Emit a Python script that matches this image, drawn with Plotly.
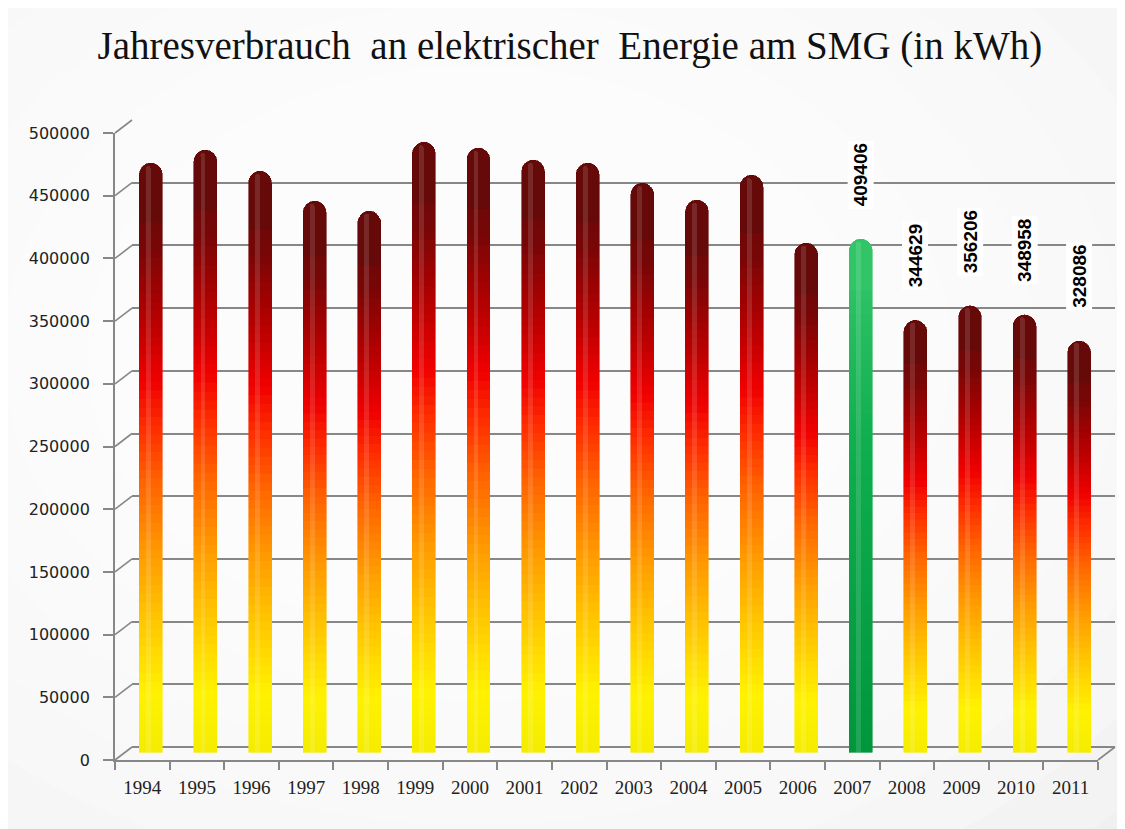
import plotly.graph_objects as go
import numpy as np

# ---------------- data ----------------
years = [str(y) for y in range(1994, 2012)]
verbrauch_kwh = [470000, 480400, 463600, 439700, 431700, 486700, 482000, 472400,
                 470000, 454000, 440500, 460400, 406200, 409406, 344629, 356206,
                 348958, 328086]
labelled_years = ["2007", "2008", "2009", "2010", "2011"]
highlight_year = "2007"
y_ticks = list(range(0, 500001, 50000))
title_text = "Jahresverbrauch\u00a0 an elektrischer\u00a0 Energie am SMG (in kWh)"

# ---------------- geometry (reference pixels, page has 8px body margin) ----------------
OFF = 8
W, H = 1125 - OFF, 829 - OFF
YMAX = 500000
FRONT = dict(l=115 - OFF, r=1098 - OFF, t=133 - OFF, b=760 - OFF)
DX, DY = 17, -13                      # depth offset of back wall (px)
BACK = dict(l=FRONT["l"] + DX, r=FRONT["r"] + DX, t=FRONT["t"] + DY, b=FRONT["b"] + DY)
MID = dict(l=FRONT["l"] + DX / 2, r=FRONT["r"] + DX / 2, t=FRONT["t"] + DY / 2 - 1, b=FRONT["b"] + DY / 2 - 1)


def xdom(g):
    return [g["l"] / W, g["r"] / W]


def ydom(g):
    return [1 - g["b"] / H, 1 - g["t"] / H]


def py(g, v):
    return g["b"] - v / YMAX * (g["b"] - g["t"])


GRID = "#878787"

# ---------------- colours ----------------
stops = [(0.00, "#f4ec00"), (0.10, "#fff200"), (0.22, "#ffc800"), (0.33, "#ff9e00"),
         (0.45, "#ff6800"), (0.55, "#ff2e00"), (0.63, "#f00000"), (0.74, "#b40000"),
         (0.86, "#780606"), (1.00, "#5c0a0a")]
gstops = [(0.0, "#00963c"), (0.6, "#0fae4e"), (1.0, "#36c86c")]


def hex2rgb(h):
    h = h.lstrip("#")
    return [int(h[i:i + 2], 16) for i in (0, 2, 4)]


def grad(st, t):
    for (t0, c0), (t1, c1) in zip(st[:-1], st[1:]):
        if t <= t1:
            f = (t - t0) / (t1 - t0) if t1 > t0 else 0
            a, b = hex2rgb(c0), hex2rgb(c1)
            return "rgb(%d,%d,%d)" % tuple(round(a[i] + (b[i] - a[i]) * f) for i in range(3))
    return st[-1][1]


fig = go.Figure()

# invisible carriers so the front and back axes know the categories
for xa, ya in (("x", "y"), ("x2", "y2")):
    fig.add_trace(go.Scatter(x=years, y=[0] * len(years), xaxis=xa, yaxis=ya, mode="markers",
                             marker=dict(opacity=0, size=1), hoverinfo="skip", showlegend=False))

# stacked segments give the vertical gradient of each cylinder
edges = list(np.linspace(0, 0.9, 61)) + [1.0]
vals = np.array(verbrauch_kwh, dtype=float)
for k in range(len(edges) - 1):
    tmid = (edges[k] + edges[k + 1]) / 2
    cols = [grad(gstops, tmid) if yr == highlight_year else grad(stops, tmid) for yr in years]
    mk = dict(color=cols, line=dict(width=0.6, color=cols))
    if k == 0:
        mk["cornerradius"] = 12
    fig.add_trace(go.Bar(
        x=years, y=vals * (edges[k + 1] - edges[k]),
        xaxis="x3", yaxis="y3", width=0.42, marker=mk,
        hoverinfo="skip", showlegend=False))

# soft highlight for cylinder look
fig.add_trace(go.Bar(
    x=years, y=vals * 0.995, xaxis="x4", yaxis="y4", width=0.09, offset=-0.09,
    marker=dict(color="rgba(255,255,255,0.13)", line=dict(width=0), cornerradius=4),
    hoverinfo="skip", showlegend=False))

# data labels (numeric category index on the bar axis)
for yr in labelled_years:
    i = years.index(yr)
    v = verbrauch_kwh[i]
    fig.add_annotation(x=i, y=v, xref="x3", yref="y3", text="<b>%d</b>" % v, textangle=-90,
                       showarrow=False, xanchor="center", yanchor="bottom", yshift=30,
                       bgcolor="white", borderpad=2,
                       font=dict(family="Liberation Sans", size=19, color="#000000"))

# ---------------- shapes: background, walls ----------------
shapes = []
for i in range(11):
    r = 0.95 - i * 0.075
    cx, cy = 0.42, 0.58
    shapes.append(dict(type="circle", xref="paper", yref="paper", layer="below",
                       x0=cx - r, x1=cx + r, y0=cy - r, y1=cy + r,
                       fillcolor="rgba(255,255,255,0.24)", line=dict(width=0)))
for v in y_ticks:
    shapes.append(dict(type="line", xref="paper", yref="paper", layer="below",
                       x0=FRONT["l"] / W, y0=1 - py(FRONT, v) / H,
                       x1=BACK["l"] / W, y1=1 - py(BACK, v) / H,
                       line=dict(color=GRID, width=1.6)))
shapes.append(dict(type="line", xref="paper", yref="paper", layer="below",
                   x0=FRONT["r"] / W, y0=1 - py(FRONT, 0) / H,
                   x1=BACK["r"] / W, y1=1 - py(BACK, 0) / H,
                   line=dict(color=GRID, width=1.6)))

hidden_x = dict(type="category", categoryorder="array", categoryarray=years, range=[-0.5, 17.5],
                showticklabels=False, ticks="", showgrid=False, zeroline=False, showline=False,
                fixedrange=True)
hidden_y = dict(range=[0, YMAX], showticklabels=False, ticks="", showgrid=False,
                zeroline=False, showline=False, fixedrange=True)

fig.update_layout(
    width=W, height=H,
    margin=dict(l=0, r=0, t=0, b=0, autoexpand=False),
    paper_bgcolor="#e6e6e6",
    plot_bgcolor="rgba(0,0,0,0)",
    barmode="stack",
    showlegend=False,
    shapes=shapes,
    title=dict(text=title_text, x=0.503, xanchor="center", y=1 - (45 - OFF) / H, yanchor="middle",
               font=dict(family="Liberation Serif", size=39, color="#111111")),
    xaxis=dict(domain=xdom(FRONT), anchor="y", type="category", categoryorder="array",
               categoryarray=years, range=[-0.5, 17.5], tickson="boundaries",
               ticks="outside", ticklen=8, tickcolor=GRID, tickwidth=1.6,
               showline=True, linecolor=GRID, linewidth=1.6, showgrid=False, zeroline=False,
               ticklabelstandoff=9,
               tickfont=dict(family="Liberation Serif", size=19, color="#222222"),
               fixedrange=True),
    yaxis=dict(domain=ydom(FRONT), anchor="x", range=[0, YMAX], tickvals=y_ticks,
               ticktext=[str(t) + "\u00a0\u00a0" for t in y_ticks],
               ticks="outside", ticklen=10, tickcolor=GRID, tickwidth=1.6,
               showline=True, linecolor=GRID, linewidth=1.6, showgrid=False, zeroline=False,
               tickfont=dict(family="DejaVu Sans", size=16, color="#222222"),
               fixedrange=True),
    xaxis2=dict(hidden_x, domain=xdom(BACK), anchor="y2"),
    yaxis2=dict(domain=ydom(BACK), anchor="x2", range=[0, YMAX], tickvals=y_ticks,
                showticklabels=False, ticks="", showgrid=True, gridcolor=GRID, gridwidth=1.6,
                zeroline=True, zerolinecolor=GRID, zerolinewidth=1.6, showline=False,
                fixedrange=True),
    xaxis3=dict(hidden_x, domain=xdom(MID), anchor="y3"),
    yaxis3=dict(hidden_y, domain=ydom(MID), anchor="x3"),
    xaxis4=dict(hidden_x, domain=xdom(MID), anchor="y4"),
    yaxis4=dict(hidden_y, domain=ydom(MID), anchor="x4"),
)

fig.write_html("out.html")
